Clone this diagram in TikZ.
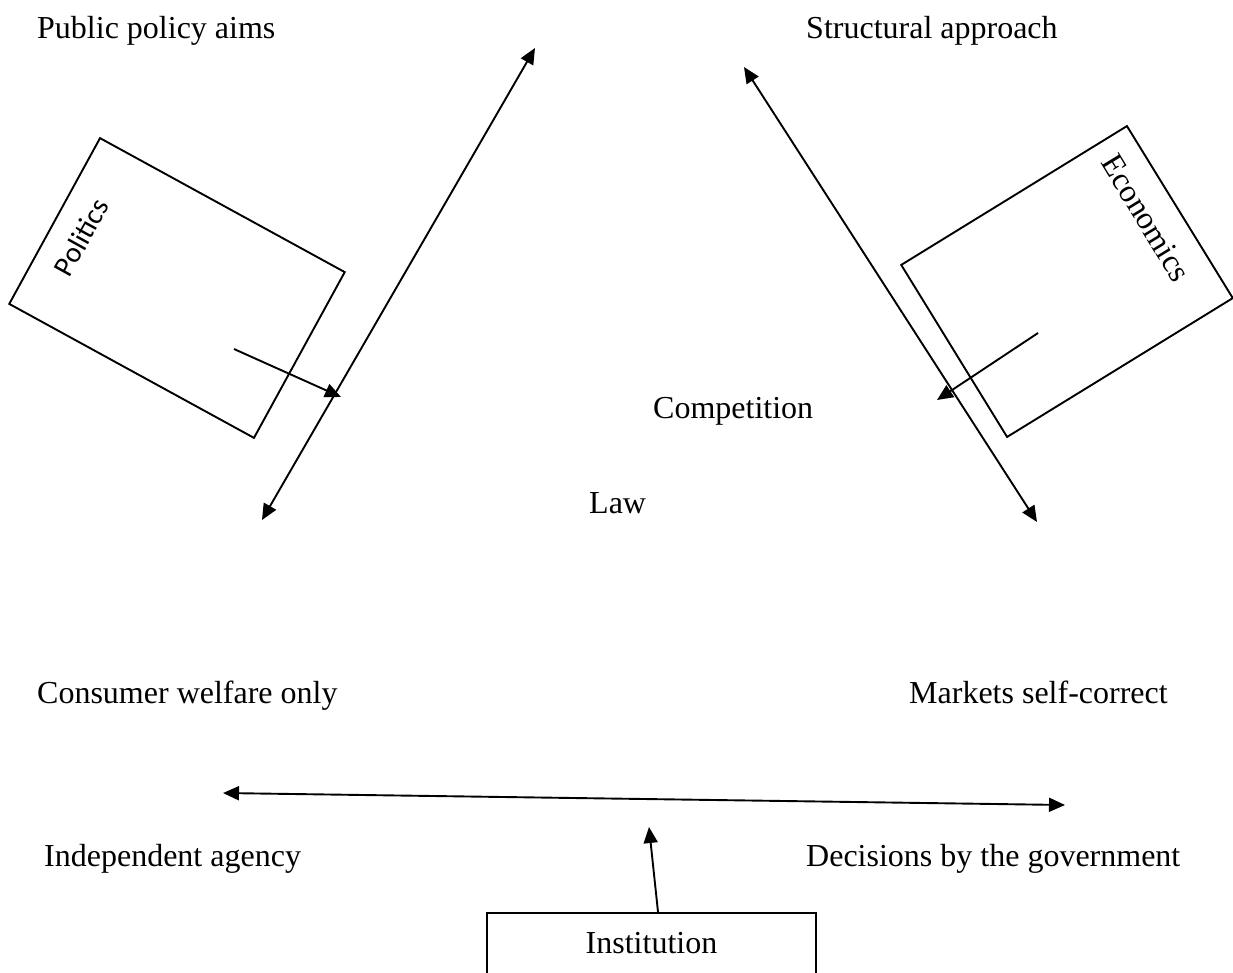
\documentclass[tikz,border=0pt]{standalone}
\usepackage{fontspec}
\setmainfont{Liberation Serif}
\newfontfamily\calibrifont{Carlito}
\usetikzlibrary{arrows.meta}
\begin{document}
\begin{tikzpicture}[x=1pt,y=-1pt,
  lbl/.style={anchor=base west, inner sep=0pt, font=\rmfamily\fontsize{32}{38}\selectfont},
  conn/.style={line width=1.9pt, -{Triangle[length=16pt,width=14pt]}},
  dconn/.style={line width=1.9pt, {Triangle[length=16pt,width=14pt]}-{Triangle[length=16pt,width=14pt]}},
  tiltbox/.style={draw, line width=1.9pt, inner sep=0pt, shape=rectangle}]
\useasboundingbox (0,0) rectangle (1233,972);
\clip (0,0) rectangle (1233,972);

% boxes
\node[tiltbox, minimum width=279pt, minimum height=189pt, rotate=-28.7] (politicsbox) at (177,288) {};
\node[tiltbox, minimum width=265pt, minimum height=202pt, rotate=31.6] (econbox) at (1067,281.5) {};
\node[draw, line width=1.9pt, anchor=north, minimum width=329pt, inner xsep=0pt, inner ysep=19pt,
      text height=22pt, text depth=7pt, font=\rmfamily\fontsize{32}{38}\selectfont] (inst) at (651.5,912) {Institution};

% box texts
\node[inner sep=0pt, rotate=61, font=\calibrifont\fontsize{29}{34}\selectfont] (politics) at (81,237) {Politics};
\node[inner sep=0pt, rotate=-58.7, font=\rmfamily\fontsize{32}{38}\selectfont] (economics) at (1146,218) {Economics};

% labels
\node[lbl] (ppa) at (37,38) {Public policy aims};
\node[lbl] (sa) at (806,38) {Structural approach};
\node[lbl] (comp) at (653,418) {Competition};
\node[lbl] (law) at (589,513) {Law};
\node[lbl] (cwo) at (37,703) {Consumer welfare only};
\node[lbl] (msc) at (909,703) {Markets self-correct};
\node[lbl] (ia) at (44,866) {Independent agency};
\node[lbl] (dbg) at (806,866) {Decisions by the government};

% connector end points
\coordinate (la) at (262,520);
\coordinate (lb) at (535,48);
\coordinate (pa) at (234,349);
\coordinate (pb) at (341,397);
\coordinate (ra) at (744,67);
\coordinate (rb) at (1037,522);
\coordinate (ea) at (1038,333);
\coordinate (eb) at (937,400);
\coordinate (ba) at (223,793);
\coordinate (bb) at (1065,805);
\coordinate (ia0) at (658,912);
\coordinate (ib) at (649,827);

% connectors
\draw[dconn] (la) -- (lb);
\draw[conn] (pa) -- (pb);
\draw[dconn] (ra) -- (rb);
\draw[conn] (ea) -- (eb);
\draw[dconn] (ba) -- (bb);
\draw[conn] (ia0) -- (ib);
\end{tikzpicture}
\end{document}
